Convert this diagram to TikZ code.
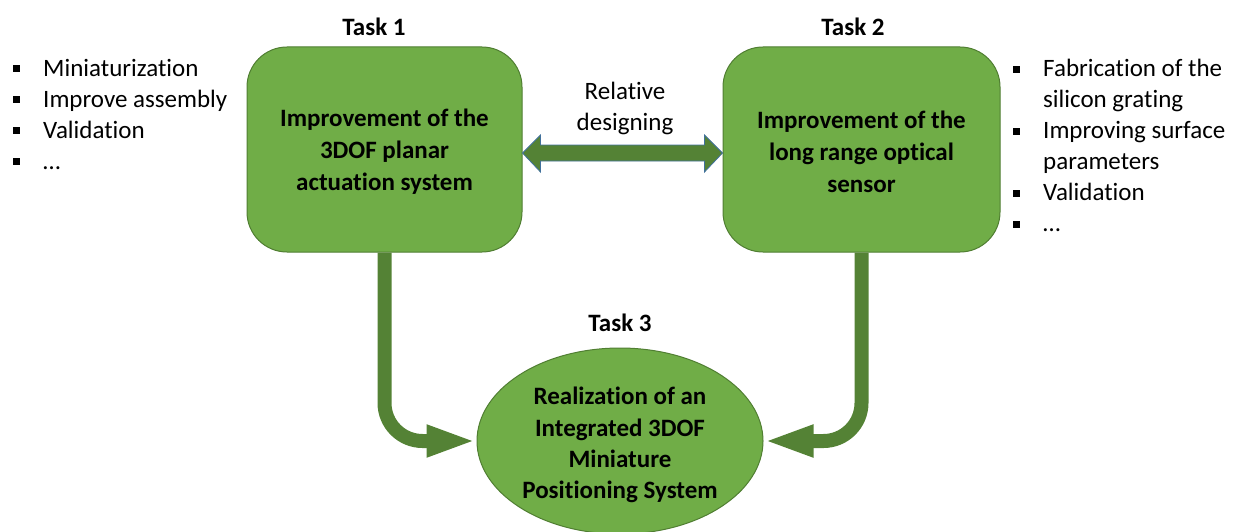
\documentclass[tikz,border=0pt]{standalone}
\usepackage{fontspec}
\setmainfont[Ligatures=NoCommon]{Carlito}
\usetikzlibrary{arrows.meta,calc,shapes.geometric}
\definecolor{boxfill}{HTML}{70AD47}
\definecolor{boxline}{HTML}{507E32}
\definecolor{arrfill}{HTML}{548235}
\definecolor{arrline}{HTML}{41719C}
\newcommand{\bul}{\llap{\raisebox{4pt}{\rule{7pt}{7pt}}\hspace{23pt}}}
\begin{document}
\begin{tikzpicture}[x=1pt,y=-1pt,
  taskbox/.style={draw=boxline, line width=1pt, fill=boxfill, rounded corners=40pt,
    minimum width=#1, minimum height=205pt, align=center, inner sep=0pt,
    font=\fontsize{25}{32}\selectfont\bfseries},
  title/.style={font=\fontsize{25}{30}\selectfont\bfseries, inner sep=0pt},
  plain/.style={font=\fontsize{25}{31}\selectfont, inner sep=0pt, align=left},
  flow/.style={draw=arrfill, line width=14pt, rounded corners=38pt,
    -{Triangle[length=50pt,width=29pt]}}]
\useasboundingbox (0,0) rectangle (1233,532);
\node[taskbox=275pt] (b1) at (384.5,149.5) {\strut Improvement of the\\3DOF planar\\actuation system};
\node[taskbox=277pt] (b2) at (861.5,149.5) {\strut Improvement of the\\long range optical\\sensor};
\node[draw=boxline, line width=1pt, fill=boxfill, ellipse, minimum width=286pt, minimum height=186pt,
  inner sep=0pt] (e) at (620,441) {};
\node[align=center, inner sep=0pt, font=\fontsize{25}{31.3}\selectfont\bfseries] (et) at ($(e.center)+(0,4)$)
  {Realization of an\\Integrated 3DOF\\Miniature\\Positioning System};
\node[title] (t1) at (374,27) {Task 1};
\node[title] (t2) at (853,27) {Task 2};
\node[title] (t3) at (620,323) {Task 3};
\node[plain, align=center] (rel) at (625,108) {Relative\\designing};
\node[plain, anchor=north west] (l1) at (43,59) {\bul Miniaturization\\\bul Improve assembly\\\bul Validation\\\bul …};
\node[plain, anchor=north west] (l2) at (1043,59) {\bul Fabrication of the\\silicon grating\\\bul Improving surface\\parameters\\\bul Validation\\\bul …};
\fill[arrfill, draw=arrline, line width=0.8pt]
  (b1.east |- 0,153) -- ++(18,-18) -- ++(0,10) -- ($(b2.west |- 0,145)+(-18,0)$) -- ++(0,-10)
  -- (b2.west |- 0,153) -- ++(-18,19) -- ++(0,-11) -- ($(b1.east |- 0,161)+(18,0)$) -- ++(0,11) -- cycle;
\draw[flow] (b1.south) |- (e.west);
\draw[flow] (b2.south) |- (e.east);
\end{tikzpicture}
\end{document}
